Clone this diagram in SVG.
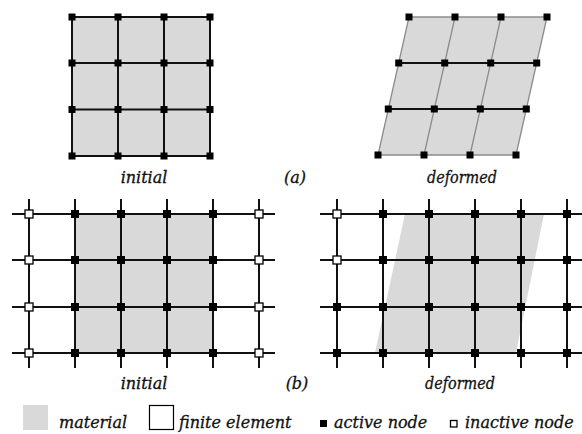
<svg xmlns="http://www.w3.org/2000/svg" width="582" height="434" viewBox="0 0 582 434">
<style>
.mat{fill:#d9d9d9;stroke:none}
.ln{stroke:#111;stroke-width:2;fill:none}
.lg{stroke:#8c8c8c;stroke-width:1.3;fill:none}
.act{fill:#000}
.ina{fill:#fff;stroke:#000;stroke-width:1.3}
.lbl{font-family:"DejaVu Serif","Liberation Serif",serif;font-style:italic;font-size:16px;fill:#111;stroke:#111;stroke-width:0.3}
</style>
<rect width="582" height="434" fill="#fff"/>
<g id="materials">
<rect class="mat" x="72" y="17" width="138" height="139"/>
<polygon class="mat" points="409,17 547,17 516,155 378,155"/>
<rect class="mat" x="75" y="214" width="138" height="139"/>
<polygon class="mat" points="405,214 544,214 516,353 375,353"/>
</g>
<g id="connectors">
<path class="ln" d="M72,17H210M72,63H210M72,109.5H210M72,156H210M72,17V156M118,17V156M164,17V156M210,17V156"/>
<path class="lg" d="M409,17H547M378,155H516M409,17L378,155M455,17L424,155M501,17L470,155M547,17L516,155"/>
<path class="ln" d="M398.7,63H536.7M388.3,109H526.3"/>
<path class="ln" d="M12,214H275M12,260H275M12,307H275M12,353H275M29,199V368M75,199V368M121,199V368M167,199V368M213,199V368M259,199V368"/>
<path class="ln" d="M320,214H582M320,260H582M320,307H582M320,353H582M337,199V368M383,199V368M429,199V368M475,199V368M521,199V368M567,199V368"/>
</g>
<g id="a-init-nodes">
<g id="ai-00"><rect class="act" x="68.5" y="13.5" width="7" height="7"/></g>
<g id="ai-01"><rect class="act" x="114.5" y="13.5" width="7" height="7"/></g>
<g id="ai-02"><rect class="act" x="160.5" y="13.5" width="7" height="7"/></g>
<g id="ai-03"><rect class="act" x="206.5" y="13.5" width="7" height="7"/></g>
<g id="ai-10"><rect class="act" x="68.5" y="59.5" width="7" height="7"/></g>
<g id="ai-11"><rect class="act" x="114.5" y="59.5" width="7" height="7"/></g>
<g id="ai-12"><rect class="act" x="160.5" y="59.5" width="7" height="7"/></g>
<g id="ai-13"><rect class="act" x="206.5" y="59.5" width="7" height="7"/></g>
<g id="ai-20"><rect class="act" x="68.5" y="106" width="7" height="7"/></g>
<g id="ai-21"><rect class="act" x="114.5" y="106" width="7" height="7"/></g>
<g id="ai-22"><rect class="act" x="160.5" y="106" width="7" height="7"/></g>
<g id="ai-23"><rect class="act" x="206.5" y="106" width="7" height="7"/></g>
<g id="ai-30"><rect class="act" x="68.5" y="152.5" width="7" height="7"/></g>
<g id="ai-31"><rect class="act" x="114.5" y="152.5" width="7" height="7"/></g>
<g id="ai-32"><rect class="act" x="160.5" y="152.5" width="7" height="7"/></g>
<g id="ai-33"><rect class="act" x="206.5" y="152.5" width="7" height="7"/></g>
</g>
<g id="a-def-nodes">
<g id="ad-00"><rect class="act" x="405.5" y="13.5" width="7" height="7"/></g>
<g id="ad-01"><rect class="act" x="451.5" y="13.5" width="7" height="7"/></g>
<g id="ad-02"><rect class="act" x="497.5" y="13.5" width="7" height="7"/></g>
<g id="ad-03"><rect class="act" x="543.5" y="13.5" width="7" height="7"/></g>
<g id="ad-10"><rect class="act" x="395.2" y="59.5" width="7" height="7"/></g>
<g id="ad-11"><rect class="act" x="441.2" y="59.5" width="7" height="7"/></g>
<g id="ad-12"><rect class="act" x="487.2" y="59.5" width="7" height="7"/></g>
<g id="ad-13"><rect class="act" x="533.2" y="59.5" width="7" height="7"/></g>
<g id="ad-20"><rect class="act" x="384.8" y="105.5" width="7" height="7"/></g>
<g id="ad-21"><rect class="act" x="430.8" y="105.5" width="7" height="7"/></g>
<g id="ad-22"><rect class="act" x="476.8" y="105.5" width="7" height="7"/></g>
<g id="ad-23"><rect class="act" x="522.8" y="105.5" width="7" height="7"/></g>
<g id="ad-30"><rect class="act" x="374.5" y="151.5" width="7" height="7"/></g>
<g id="ad-31"><rect class="act" x="420.5" y="151.5" width="7" height="7"/></g>
<g id="ad-32"><rect class="act" x="466.5" y="151.5" width="7" height="7"/></g>
<g id="ad-33"><rect class="act" x="512.5" y="151.5" width="7" height="7"/></g>
</g>
<g id="b-init-nodes">
<g id="bi-00"><rect class="ina" x="25" y="210" width="8" height="8"/></g>
<g id="bi-01"><rect class="act" x="71" y="210" width="8" height="8"/></g>
<g id="bi-02"><rect class="act" x="117" y="210" width="8" height="8"/></g>
<g id="bi-03"><rect class="act" x="163" y="210" width="8" height="8"/></g>
<g id="bi-04"><rect class="act" x="209" y="210" width="8" height="8"/></g>
<g id="bi-05"><rect class="ina" x="255" y="210" width="8" height="8"/></g>
<g id="bi-10"><rect class="ina" x="25" y="256" width="8" height="8"/></g>
<g id="bi-11"><rect class="act" x="71" y="256" width="8" height="8"/></g>
<g id="bi-12"><rect class="act" x="117" y="256" width="8" height="8"/></g>
<g id="bi-13"><rect class="act" x="163" y="256" width="8" height="8"/></g>
<g id="bi-14"><rect class="act" x="209" y="256" width="8" height="8"/></g>
<g id="bi-15"><rect class="ina" x="255" y="256" width="8" height="8"/></g>
<g id="bi-20"><rect class="ina" x="25" y="303" width="8" height="8"/></g>
<g id="bi-21"><rect class="act" x="71" y="303" width="8" height="8"/></g>
<g id="bi-22"><rect class="act" x="117" y="303" width="8" height="8"/></g>
<g id="bi-23"><rect class="act" x="163" y="303" width="8" height="8"/></g>
<g id="bi-24"><rect class="act" x="209" y="303" width="8" height="8"/></g>
<g id="bi-25"><rect class="ina" x="255" y="303" width="8" height="8"/></g>
<g id="bi-30"><rect class="ina" x="25" y="349" width="8" height="8"/></g>
<g id="bi-31"><rect class="act" x="71" y="349" width="8" height="8"/></g>
<g id="bi-32"><rect class="act" x="117" y="349" width="8" height="8"/></g>
<g id="bi-33"><rect class="act" x="163" y="349" width="8" height="8"/></g>
<g id="bi-34"><rect class="act" x="209" y="349" width="8" height="8"/></g>
<g id="bi-35"><rect class="ina" x="255" y="349" width="8" height="8"/></g>
</g>
<g id="b-def-nodes">
<g id="bd-00"><rect class="ina" x="333" y="210" width="8" height="8"/></g>
<g id="bd-01"><rect class="act" x="379" y="210" width="8" height="8"/></g>
<g id="bd-02"><rect class="act" x="425" y="210" width="8" height="8"/></g>
<g id="bd-03"><rect class="act" x="471" y="210" width="8" height="8"/></g>
<g id="bd-04"><rect class="act" x="517" y="210" width="8" height="8"/></g>
<g id="bd-05"><rect class="act" x="563" y="210" width="8" height="8"/></g>
<g id="bd-10"><rect class="ina" x="333" y="256" width="8" height="8"/></g>
<g id="bd-11"><rect class="act" x="379" y="256" width="8" height="8"/></g>
<g id="bd-12"><rect class="act" x="425" y="256" width="8" height="8"/></g>
<g id="bd-13"><rect class="act" x="471" y="256" width="8" height="8"/></g>
<g id="bd-14"><rect class="act" x="517" y="256" width="8" height="8"/></g>
<g id="bd-15"><rect class="act" x="563" y="256" width="8" height="8"/></g>
<g id="bd-20"><rect class="act" x="333" y="303" width="8" height="8"/></g>
<g id="bd-21"><rect class="act" x="379" y="303" width="8" height="8"/></g>
<g id="bd-22"><rect class="act" x="425" y="303" width="8" height="8"/></g>
<g id="bd-23"><rect class="act" x="471" y="303" width="8" height="8"/></g>
<g id="bd-24"><rect class="act" x="517" y="303" width="8" height="8"/></g>
<g id="bd-25"><rect class="act" x="563" y="303" width="8" height="8"/></g>
<g id="bd-30"><rect class="act" x="333" y="349" width="8" height="8"/></g>
<g id="bd-31"><rect class="act" x="379" y="349" width="8" height="8"/></g>
<g id="bd-32"><rect class="act" x="425" y="349" width="8" height="8"/></g>
<g id="bd-33"><rect class="act" x="471" y="349" width="8" height="8"/></g>
<g id="bd-34"><rect class="act" x="517" y="349" width="8" height="8"/></g>
<g id="bd-35"><rect class="act" x="563" y="349" width="8" height="8"/></g>
</g>
<g id="labels">
<text class="lbl" x="144" y="183" text-anchor="middle">initial</text>
<text class="lbl" x="295" y="183" text-anchor="middle">(a)</text>
<text class="lbl" x="462" y="183" text-anchor="middle" textLength="70" lengthAdjust="spacingAndGlyphs">deformed</text>
<text class="lbl" x="144" y="389" text-anchor="middle">initial</text>
<text class="lbl" x="297" y="389" text-anchor="middle">(b)</text>
<text class="lbl" x="460" y="389" text-anchor="middle" textLength="70" lengthAdjust="spacingAndGlyphs">deformed</text>
</g>
<g id="legend">
<g id="leg-material"><rect class="mat" x="23" y="405" width="25" height="25"/><text class="lbl" x="59" y="428">material</text></g>
<g id="leg-element"><rect x="149.5" y="405.5" width="24" height="24" fill="#fff" stroke="#000" stroke-width="1.2"/><text class="lbl" x="179" y="428">finite element</text></g>
<g id="leg-active"><rect class="act" x="320" y="420" width="7" height="7"/><text class="lbl" x="334" y="428">active node</text></g>
<g id="leg-inactive"><rect class="ina" x="450.5" y="420.5" width="6.5" height="6.5"/><text class="lbl" x="465" y="428">inactive node</text></g>
</g>
</svg>
